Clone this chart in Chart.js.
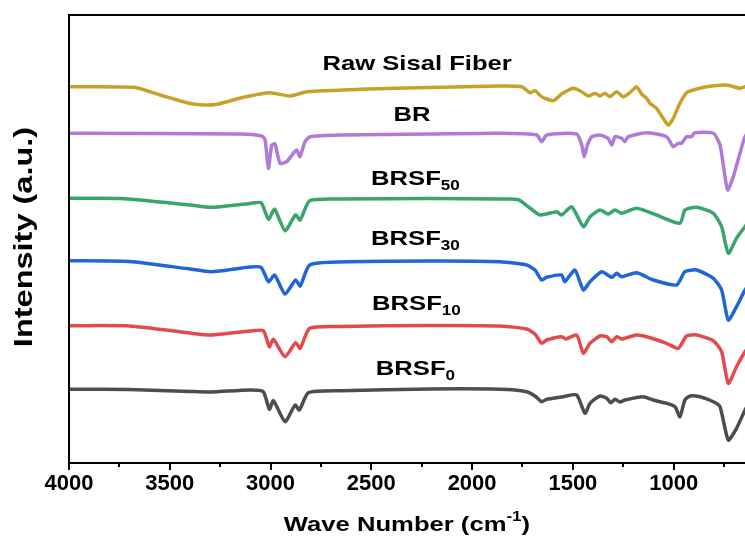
<!DOCTYPE html>
<html>
<head>
<meta charset="utf-8">
<script src="https://cdn.jsdelivr.net/npm/chart.js@4.4.0/dist/chart.umd.min.js"></script>
<style>
  html, body { margin: 0; padding: 0; background: #fff; }
  #wrap { width: 745px; height: 538px; }
</style>
</head>
<body>
<div id="wrap"><canvas id="ftir" width="745" height="538"></canvas></div>
<script>
// wave numbers (cm-1) and intensity (a.u., offset curves)
const rawWn = [4000, 3680, 3548, 3416, 3333, 3267, 3135, 3003, 2903, 2820, 2556, 2209, 1862, 1754, 1713, 1688, 1655, 1597, 1556, 1498, 1456, 1423, 1390, 1366, 1341, 1316, 1283, 1250, 1217, 1184, 1159, 1134, 1118, 1085, 1052, 1027, 1002, 969, 936, 903, 837, 738, 671, 646, 620];
const rawI = [376.3, 375.7, 368, 360.3, 358, 358.7, 365.7, 370.3, 367, 371.3, 373.7, 375.5, 377, 376.3, 370.3, 372.3, 366.3, 362.3, 369, 374.7, 371.3, 367, 369.7, 367, 369.7, 366.3, 371.3, 366.3, 370.3, 376.3, 369, 364.7, 359.7, 354.7, 344.7, 338, 344.7, 359.7, 370.3, 373, 376.3, 378, 374.7, 376.3, 376];

const brWn = [4000, 3150, 3044, 3027, 3011, 2994, 2978, 2953, 2920, 2887, 2870, 2854, 2829, 2804, 2655, 2209, 1862, 1679, 1655, 1630, 1481, 1456, 1444, 1428, 1406, 1366, 1325, 1307, 1291, 1258, 1242, 1225, 1134, 1035, 1002, 977, 961, 936, 911, 895, 803, 770, 750, 732, 704, 671, 646, 620];
const brI = [329.7, 329, 327, 323, 294.7, 318, 319, 299.7, 301.3, 309.7, 313, 306.3, 321.3, 326.3, 328, 329, 329.7, 328, 321.3, 328, 329, 318, 306.3, 318, 326.3, 328, 324.7, 318, 326.3, 324.7, 321.3, 326.3, 330.3, 326.3, 316.3, 319.7, 319.7, 326.3, 326.3, 330.3, 329.7, 318, 293, 273, 286.3, 309.7, 326.3, 333];

const brsf50Wn = [4000, 3742, 3400, 3295, 3102, 3047, 3010, 2980, 2928, 2876, 2853, 2806, 2655, 2209, 1862, 1772, 1712, 1663, 1580, 1556, 1506, 1448, 1415, 1366, 1325, 1291, 1258, 1184, 1085, 969, 944, 886, 803, 762, 729, 688, 646, 620];
const brsf50I = [264.7, 264.5, 258, 255.7, 259.5, 260.3, 243.7, 253.7, 232.3, 248, 243, 262.3, 264, 264.5, 264, 263.5, 254.7, 248, 251.3, 248, 256.3, 236.3, 246.3, 253, 249, 253, 249.7, 254.7, 248, 239.7, 253, 255.7, 249.7, 236.3, 209.7, 224.7, 236.3, 243];

const brsf30Wn = [4000, 3700, 3400, 3295, 3102, 3047, 3010, 2980, 2928, 2876, 2853, 2806, 2655, 2209, 1862, 1729, 1688, 1655, 1630, 1556, 1540, 1490, 1448, 1415, 1357, 1307, 1283, 1258, 1184, 1101, 985, 944, 886, 803, 762, 729, 688, 646, 620];
const brsf30I = [202.3, 201.5, 194, 191.3, 196, 195.7, 181.3, 188, 169, 183, 177, 198, 201, 202, 201.3, 198, 193, 183, 185.7, 188, 181.3, 193, 173, 181.3, 191.3, 185.7, 189.7, 186.3, 190.3, 183, 178, 191.3, 193, 184.7, 173, 143, 156.3, 173, 180];

const brsf10Wn = [4000, 3700, 3400, 3295, 3102, 3036, 3006, 2986, 2928, 2876, 2853, 2806, 2655, 2209, 1862, 1729, 1688, 1655, 1630, 1556, 1535, 1481, 1448, 1415, 1366, 1332, 1307, 1283, 1258, 1184, 1134, 1035, 977, 936, 886, 803, 762, 729, 688, 646, 620];
const brsf10I = [137.3, 137, 130, 128, 132, 132.3, 116.3, 123.7, 106.3, 120.3, 114.7, 134.7, 136.5, 137.5, 137, 134, 129, 119.7, 123, 126.3, 124, 128, 109.7, 119.7, 127, 126.3, 121.3, 126.3, 124, 128, 126.3, 119.7, 114.7, 127, 128, 122.3, 111.3, 79.7, 96.3, 111.3, 118];

const brsf0Wn = [4000, 3702, 3399, 3295, 3102, 3036, 3006, 2986, 2928, 2878, 2857, 2812, 2655, 2209, 1862, 1729, 1688, 1655, 1630, 1548, 1481, 1440, 1415, 1366, 1332, 1312, 1291, 1266, 1242, 1151, 1101, 1035, 993, 969, 944, 919, 870, 803, 770, 729, 688, 646, 620];
const brsf0I = [73.7, 73.5, 71.5, 71, 73, 71.3, 53.7, 62.3, 41.3, 58, 53, 70.3, 72.3, 74, 73.7, 71.3, 67, 61.3, 63.7, 66.3, 68, 49.7, 59.7, 67, 64.7, 60.3, 63.7, 61, 63, 66.3, 63, 59.7, 56.3, 46.3, 63, 67, 66.3, 61.3, 56.3, 23, 34.7, 53, 62];

const xTicks = [4000, 3500, 3000, 2500, 2000, 1500, 1000];
const xMinor = [3750, 3250, 2750, 2250, 1750, 1250, 750];

const labelMain = ["Raw Sisal Fiber", "BR", "BRSF", "BRSF", "BRSF", "BRSF"];
const labelSub = ["", "", "50", "30", "10", "0"];
const labelWn = [2273, 2298, 2281, 2281, 2276, 2281];
const labelY = [400.5, 349.5, 286, 226, 161, 96];

const FONT = "'Liberation Sans', Arial, sans-serif";
const SX = 1.22; // the figure's lettering is a bit wide

function pts(wn, vals) {
	return wn.map((w, i) => ({ x: w, y: vals[i] }));
}

function line(data, color) {
	return {
		data,
		borderColor: color,
		borderWidth: 3.5,
		pointRadius: 0,
		tension: 0.2,
		fill: false,
	};
}

function wideText(ctx, parts, cx, cy) {
	let total = 0;
	parts.forEach((p) => {
		ctx.font = p.font;
		p.w = ctx.measureText(p.t).width;
		total += p.w;
	});
	ctx.save();
	ctx.translate(cx - (total * SX) / 2, cy);
	ctx.scale(SX, 1);
	ctx.fillStyle = "#000";
	ctx.textBaseline = "alphabetic";
	ctx.textAlign = "left";
	let x = 0;
	parts.forEach((p) => {
		ctx.font = p.font;
		ctx.fillText(p.t, x, p.dy);
		x += p.w;
	});
	ctx.restore();
}

const decor = {
	id: "decor",
	afterDraw(chart) {
		const ctx = chart.ctx;
		const a = chart.chartArea;
		const xs = chart.scales.x;
		const ys = chart.scales.y;

		// frame
		ctx.save();
		ctx.strokeStyle = "#000";
		ctx.lineWidth = 2;
		ctx.beginPath();
		ctx.moveTo(a.right + 2, a.top);
		ctx.lineTo(a.left, a.top);
		ctx.lineTo(a.left, a.bottom);
		ctx.lineTo(a.right + 2, a.bottom);
		ctx.stroke();

		// tick marks, long at labels, short between
		ctx.beginPath();
		xTicks.forEach((v) => {
			const px = Math.round(xs.getPixelForValue(v));
			ctx.moveTo(px, a.bottom);
			ctx.lineTo(px, a.bottom + 7);
		});
		xMinor.forEach((v) => {
			const px = Math.round(xs.getPixelForValue(v));
			ctx.moveTo(px, a.bottom);
			ctx.lineTo(px, a.bottom + 4);
		});
		ctx.stroke();
		ctx.restore();

		// curve labels
		const big = "bold 21px " + FONT;
		const small = "bold 14px " + FONT;
		labelMain.forEach((t, i) => {
			const cx = xs.getPixelForValue(labelWn[i]);
			const cy = ys.getPixelForValue(labelY[i]) + 7.5;
			const parts = [{ t, font: big, dy: 0 }];
			if (labelSub[i]) parts.push({ t: labelSub[i], font: small, dy: 5 });
			wideText(ctx, parts, cx, cy);
		});

		// axis titles
		const mid = (a.left + a.right) / 2;
		wideText(
			ctx,
			[
				{ t: "Wave Number (cm", font: big, dy: 0 },
				{ t: "-1", font: "bold 14px " + FONT, dy: -10 },
				{ t: ")", font: big, dy: 0 },
			],
			mid,
			531
		);

		ctx.save();
		ctx.translate(32, 237);
		ctx.rotate(-Math.PI / 2);
		ctx.scale(1.3, 1);
		ctx.font = "bold 25px " + FONT;
		ctx.fillStyle = "#000";
		ctx.textAlign = "center";
		ctx.textBaseline = "alphabetic";
		ctx.fillText("Intensity (a.u.)", 0, 0);
		ctx.restore();
	},
};

new Chart(document.getElementById("ftir"), {
	type: "line",
	data: {
		datasets: [
			line(pts(rawWn, rawI), "#C8A12B"),
			line(pts(brWn, brI), "#B07AD8"),
			line(pts(brsf50Wn, brsf50I), "#3AA56B"),
			line(pts(brsf30Wn, brsf30I), "#2166D6"),
			line(pts(brsf10Wn, brsf10I), "#E34A4A"),
			line(pts(brsf0Wn, brsf0I), "#4D4D4D"),
		],
	},
	options: {
		responsive: false,
		animation: false,
		layout: { padding: { left: 69, top: 15, right: 0, bottom: 35 } },
		scales: {
			x: {
				type: "linear",
				reverse: true,
				min: 646,
				max: 4000,
				grid: { display: false, drawTicks: false },
				border: { display: false },
				afterBuildTicks: (s) => {
					s.ticks = xTicks.map((v) => ({ value: v }));
				},
				afterFit: (s) => {
					s.height = 40;
				},
				ticks: {
					padding: 8,
					maxRotation: 0,
					autoSkip: false,
					color: "#000",
					font: { family: FONT, size: 22, weight: "bold" },
					callback: (v) => String(v),
				},
			},
			y: {
				display: false,
				min: 0,
				max: 448,
			},
		},
		plugins: {
			legend: { display: false },
			tooltip: { enabled: false },
		},
	},
	plugins: [decor],
});
</script>
</body>
</html>
